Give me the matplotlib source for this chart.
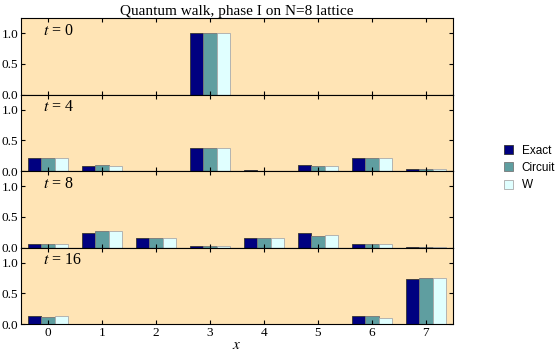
import numpy as np
import matplotlib
matplotlib.use("Agg")
import matplotlib.pyplot as plt

plt.rcParams['font.family'] = ['Liberation Serif', 'DejaVu Serif']
plt.rcParams['mathtext.fontset'] = 'stix'

# lattice sites and time steps
sites = [0, 1, 2, 3, 4, 5, 6, 7]
times = [0, 4, 8, 16]

# probabilities per time step (Exact, Circuit, W)
exact = [
    [0, 0, 0, 1.0, 0, 0, 0, 0],
    [0.21, 0.085, 0, 0.38, 0.01, 0.095, 0.21, 0.04],
    [0.065, 0.24, 0.16, 0.02, 0.16, 0.24, 0.06, 0.01],
    [0.125, 0.005, 0, 0, 0, 0, 0.125, 0.74],
]
circuit = [
    [0, 0, 0, 1.0, 0, 0, 0, 0],
    [0.21, 0.105, 0, 0.38, 0.005, 0.075, 0.21, 0.03],
    [0.065, 0.27, 0.16, 0.02, 0.16, 0.19, 0.06, 0.01],
    [0.115, 0.003, 0, 0, 0, 0, 0.125, 0.755],
]
w_state = [
    [0, 0, 0, 1.0, 0, 0, 0, 0],
    [0.22, 0.085, 0, 0.38, 0.005, 0.085, 0.21, 0.03],
    [0.065, 0.27, 0.16, 0.02, 0.16, 0.20, 0.06, 0.01],
    [0.125, 0.003, 0, 0, 0, 0, 0.105, 0.75],
]

fig, axes = plt.subplots(4, 1, figsize=(5.59, 3.53), dpi=100, sharex=True)
fig.subplots_adjust(left=0.038, right=0.81, bottom=0.082, top=0.949, hspace=0)

x = np.array(sites)
w = 0.25
for i, ax in enumerate(axes):
    ax.set_facecolor('#FFE4B5')
    ax.bar(x - w, exact[i], w, color='#000080', edgecolor='#333333', linewidth=0.6, label='Exact')
    ax.bar(x, circuit[i], w, color='#5F9EA0', edgecolor='#777777', linewidth=0.6, label='Circuit')
    ax.bar(x + w, w_state[i], w, color='#E0FFFF', edgecolor='#aaaaaa', linewidth=0.6, label='W')
    ax.set_ylim(0, 1.25)
    ax.set_xlim(-0.5, 7.5)
    ax.set_yticks([0.0, 0.5, 1.0])
    ax.set_yticklabels(['0.0', '0.5', '1.0'])
    ax.tick_params(direction='in', top=True, right=True, length=3, labelsize=9.5, pad=2)
    ax.text(0.05, 0.94, '$t$ = %d' % times[i], transform=ax.transAxes,
            fontsize=11.5, va='top', ha='left')

axes[-1].set_xticks(sites)
axes[-1].set_xlabel('$x$', fontsize=11, labelpad=0)
axes[0].set_title('Quantum walk, phase I on N=8 lattice', fontsize=11, pad=2)

handles, labels = axes[0].get_legend_handles_labels()
fig.legend(handles, labels, loc='center left', bbox_to_anchor=(0.893, 0.524),
           frameon=False, prop={'family': 'Liberation Sans', 'size': 8.5},
           handlelength=0.8, handleheight=0.8, handletextpad=0.7, labelspacing=0.45,
           borderaxespad=0)

fig.savefig('out.png')
